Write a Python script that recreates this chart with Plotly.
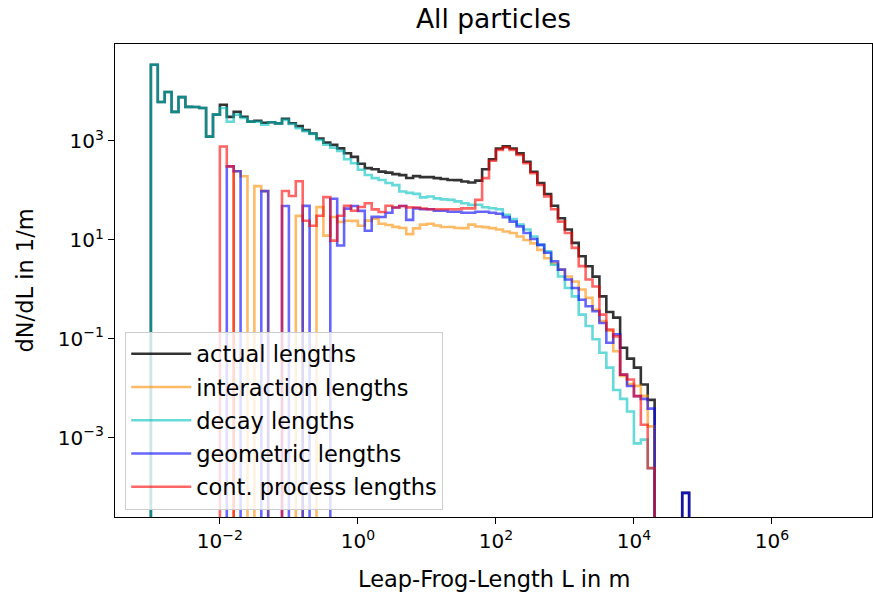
import numpy as np
import plotly.graph_objects as go

# Histogram binning: 0.1-decade bins starting at 1e-3 m
LOG_START = -3.0
BIN_STEP = 0.1

# Counts per bin (bin 0 starts at 1e-3 m)
actual = [9, 2, 4, 2, 5, 4, 5, 6, 2, 7,
          14, 10, 16, 16, 16, 21, 24, 31, 37, 58,
          59, 65, 68, 73, 73, 76, 86, 92, 92, 98,
          90, 92, 110, 124, 149, 175, 210, 231, 318, 383,
          482, 579, 697, 838, 1054, 1239, 1489, 2050, 4395, 8770,
          18300, 25300, 29000, 29000, 24700, 19600, 14600, 11000, 8000, 5660,
          4200, 2840, 1920, 1520, 1180, 593, 360, 349, 108, 82,
          68, 39, 24, 0, 0, 0, 0, 1]

interaction = [0, 0, 0, 0, 0, 0, 0, 0, 0, 0,
               0, 0, 1, 1, 0, 1, 1, 0, 0, 0,
               0, 1, 0, 0, 3, 1, 3, 3, 4, 5,
               5, 8, 11, 11, 13, 15, 18, 17, 28, 42,
               55, 64, 75, 94, 113, 142, 210, 242, 297, 357,
               420, 482, 566, 607, 650, 697, 650, 553, 553, 516,
               471, 471, 410, 349, 253, 187, 150, 73, 29, 25,
               29, 23, 7, 0, 0, 0, 0, 0]

decay = [9, 2, 4, 2, 5, 4, 5, 6, 2, 7,
         12, 8, 14, 15, 16, 20, 22, 31, 37, 55,
         57, 59, 65, 72, 68, 69, 75, 82, 70, 73,
         68, 67, 73, 84, 92, 105, 98, 116, 139, 149,
         196, 225, 271, 333, 392, 450, 528, 665, 746, 897,
         1080, 1054, 1080, 1054, 1054, 962, 818, 764, 516, 374,
         277, 236, 127, 94, 64, 43, 27, 12, 10, 7,
         2, 3, 1, 0, 0, 0, 0, 0]

geometric = [0, 0, 0, 0, 0, 0, 0, 0, 0, 0,
             0, 1, 1, 0, 0, 0, 1, 0, 0, 1,
             0, 0, 2, 0, 0, 0, 7, 1, 7, 10,
             10, 5, 12, 15, 23, 37, 50, 33, 71, 86,
             108, 127, 160, 192, 242, 290, 366, 482, 607, 730,
             877, 940, 962, 962, 897, 857, 818, 713, 607, 516,
             410, 349, 253, 236, 236, 171, 86, 160, 31, 23,
             18, 20, 16, 0, 0, 0, 0, 1]

cont_process = [0, 0, 0, 0, 0, 0, 0, 0, 0, 0,
                2, 1, 0, 0, 0, 0, 0, 0, 0, 2,
                2, 5, 1, 1, 2, 6, 1, 4, 8, 8,
                12, 18, 17, 19, 32, 37, 50, 59, 74, 89,
                108, 136, 171, 215, 271, 355, 447, 838, 2900, 8180,
                17100, 24150, 27100, 27100, 23070, 18300, 13300, 9840, 6810, 4820,
                3570, 2250, 1210, 818, 746, 253, 160, 146, 31, 31,
                18, 6, 1, 0, 0, 0, 0, 0]

series_names = ["actual lengths", "interaction lengths", "decay lengths",
                "geometric lengths", "cont. process lengths"]
series_counts = [actual, interaction, decay, geometric, cont_process]
series_colors = ["rgba(0,0,0,0.8)", "rgba(255,140,0,0.6)", "rgba(0,191,191,0.6)",
                 "rgba(0,0,255,0.6)", "rgba(255,0,0,0.6)"]

x_tick_vals = [1e-2, 1e0, 1e2, 1e4, 1e6]
x_tick_text = ["10<sup>\u22122</sup>", "10<sup>0</sup>", "10<sup>2</sup>",
               "10<sup>4</sup>", "10<sup>6</sup>"]
y_tick_vals = [1e-3, 1e-1, 1e1, 1e3]
y_tick_text = ["10<sup>\u22123</sup>", "10<sup>\u22121</sup>",
               "10<sup>1</sup>", "10<sup>3</sup>"]

FLOOR = 1e-12
nbins = len(actual)
edges = 10.0 ** (LOG_START + BIN_STEP * np.arange(nbins + 1))
widths = np.diff(edges)


def step_xy(counts):
    c = np.asarray(counts, dtype=float)
    dens = np.where(c > 0, c / widths, FLOOR)
    xs = [edges[0]] + list(edges[:-1]) + [edges[-1], edges[-1]]
    ys = [FLOOR] + list(dens) + [dens[-1], FLOOR]
    return xs, ys


fig = go.Figure()
for i, (name, counts, color) in enumerate(zip(series_names, series_counts, series_colors)):
    xs, ys = step_xy(counts)
    fig.add_trace(go.Scatter(
        x=xs, y=ys, mode="lines", name=name, legendgroup=str(i),
        line=dict(color=color, width=2.6, shape="hv"),
    ))

FONT = "DejaVu Sans"
TICK_SIZE = 20
LABEL_SIZE = 22.5
fig.update_layout(
    width=873, height=592,
    margin=dict(l=115, r=1, t=44, b=75),
    paper_bgcolor="white", plot_bgcolor="white",
    font=dict(family=FONT, size=LABEL_SIZE, color="black"),
    title=dict(text="All particles", x=0.5, xref="paper", xanchor="center",
               y=1 - 19 / 592, yref="container", yanchor="middle",
               font=dict(size=26.5, family=FONT, color="black")),
    showlegend=True,
    legend=dict(x=0.0135, y=0.392, xanchor="left", yanchor="top",
                bgcolor="rgba(255,255,255,0.8)", bordercolor="#cccccc", borderwidth=1,
                font=dict(size=LABEL_SIZE, family=FONT, color="black"),
                traceorder="grouped", tracegroupgap=1, itemwidth=60),
)
fig.update_xaxes(type="log", range=[-3.52, 7.45], tickvals=x_tick_vals, ticktext=x_tick_text,
                 showline=True, mirror=True, linecolor="black", linewidth=1.3,
                 ticks="outside", ticklen=6, tickwidth=1.3, tickcolor="black",
                 showgrid=False, zeroline=False, tickfont=dict(size=TICK_SIZE, family=FONT))
fig.update_yaxes(type="log", range=[-4.6, 4.96], tickvals=y_tick_vals, ticktext=y_tick_text,
                 showline=True, mirror=True, linecolor="black", linewidth=1.3,
                 ticks="outside", ticklen=6, tickwidth=1.3, tickcolor="black",
                 showgrid=False, zeroline=False, tickfont=dict(size=TICK_SIZE, family=FONT))

fig.add_annotation(text="Leap-Frog-Length L in m", xref="paper", yref="paper",
                   x=0.5, y=(517 - 579) / 473, xanchor="center", yanchor="middle",
                   showarrow=False, font=dict(size=LABEL_SIZE, family=FONT, color="black"))
fig.add_annotation(text="dN/dL in 1/m", xref="paper", yref="paper",
                   x=(24 - 115) / 757, y=0.5, xanchor="center", yanchor="middle",
                   textangle=-90, showarrow=False,
                   font=dict(size=LABEL_SIZE, family=FONT, color="black"))

fig.write_html("out.html")
